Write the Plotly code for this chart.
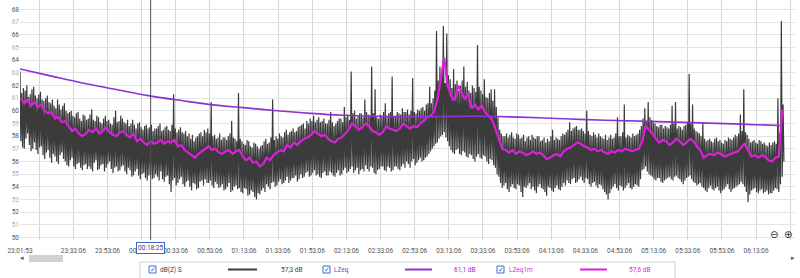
import pandas as pd
import plotly.graph_objects as go

# ---------------- data ----------------
START = "2023-05-31 23:01:53"

# dB(Z) S: upper and lower excursion in each minute (448 minutes)
dbz_high = [
    63.1, 61.4, 61.8, 61.6, 62.0, 61.1, 61.3, 61.7, 61.9, 61.2, 61.0, 61.3, 61.5, 60.9, 60.8, 61.0, 61.2, 60.7, 60.6, 60.9,
    60.4, 60.2, 60.9, 60.5, 60.1, 60.4, 60.6, 60.0, 59.8, 59.9, 60.0, 59.6, 59.5, 59.8, 59.9, 59.4, 59.2, 59.7, 59.6, 59.3,
    59.4, 59.7, 60.1, 59.3, 59.2, 59.6, 59.5, 59.1, 59.0, 59.4, 59.6, 59.2, 59.3, 59.0, 58.9, 59.5, 60.0, 59.1, 59.2, 59.6,
    59.4, 59.1, 59.0, 59.3, 58.8, 59.0, 59.3, 58.9, 58.6, 59.0, 59.1, 58.7, 58.5, 58.8, 58.9, 58.6, 58.7, 58.9, 58.4, 58.6,
    58.6, 58.8, 59.0, 58.4, 58.5, 58.7, 58.8, 58.5, 58.4, 58.9, 61.3, 58.6, 58.3, 58.5, 58.7, 58.3, 58.2, 58.4, 58.0, 58.2,
    57.8, 58.1, 57.6, 57.9, 58.0, 58.2, 58.3, 58.0, 58.5, 58.3, 58.6, 58.2, 60.7, 58.0, 58.1, 57.8, 57.9, 58.2, 57.7, 57.9,
    57.9, 57.7, 58.0, 58.2, 59.2, 57.9, 57.8, 57.6, 61.4, 57.8, 57.6, 57.4, 57.3, 57.7, 57.6, 57.2, 57.1, 57.5, 57.4, 57.2,
    57.0, 57.2, 57.3, 57.6, 57.8, 57.4, 57.5, 57.9, 60.9, 57.7, 58.0, 57.8, 58.2, 58.0, 57.9, 58.3, 58.5, 58.1, 58.3, 58.4,
    58.6, 58.3, 58.4, 58.7, 58.8, 58.9, 59.0, 58.6, 59.2, 59.0, 59.4, 59.2, 59.6, 59.1, 59.3, 59.5, 59.1, 59.2, 59.4, 59.0,
    59.0, 59.3, 59.9, 59.1, 58.8, 59.0, 59.2, 59.4, 59.4, 59.1, 60.3, 59.5, 59.7, 59.3, 63.1, 59.8, 60.0, 59.4, 59.6, 59.8,
    59.8, 59.5, 60.9, 59.9, 59.7, 59.6, 63.5, 59.8, 61.7, 59.5, 59.4, 59.7, 59.6, 59.9, 60.6, 59.5, 59.8, 59.9, 62.7, 59.6,
    59.6, 59.9, 59.8, 59.7, 60.2, 59.9, 59.9, 60.1, 59.7, 60.0, 62.6, 59.9, 59.8, 60.1, 60.0, 60.2, 60.3, 60.0, 60.5, 60.6,
    61.9, 60.6, 61.0, 61.6, 66.3, 62.4, 63.5, 63.0, 66.7, 62.2, 66.1, 62.8, 62.5, 61.8, 63.3, 62.1, 62.4, 61.6, 62.0, 62.4,
    63.5, 61.9, 62.3, 61.6, 61.4, 62.0, 61.8, 61.5, 65.2, 61.9, 61.6, 61.3, 62.5, 61.1, 61.0, 61.4, 61.7, 60.8, 61.7, 60.3,
    59.5, 58.5, 58.2, 58.0, 58.0, 58.2, 57.9, 58.1, 58.3, 57.9, 57.8, 58.2, 58.1, 57.8, 57.9, 58.1, 57.6, 57.9, 58.0, 57.7,
    58.1, 57.9, 57.8, 58.0, 58.0, 57.6, 57.7, 57.9, 57.5, 57.8, 57.6, 58.0, 58.5, 57.7, 57.9, 57.8, 57.7, 58.0, 58.2, 58.1,
    58.3, 58.5, 59.1, 58.4, 58.6, 58.7, 58.8, 58.5, 58.5, 58.6, 58.4, 58.2, 60.0, 58.4, 58.1, 58.0, 58.3, 58.1, 57.9, 58.2,
    58.0, 57.9, 57.8, 58.1, 57.7, 57.9, 58.1, 57.8, 57.9, 58.2, 59.5, 58.0, 58.0, 58.3, 60.5, 57.9, 58.1, 58.0, 57.9, 58.2,
    58.0, 58.1, 58.2, 58.5, 58.8, 59.4, 60.2, 59.2, 60.7, 59.5, 59.3, 59.1, 59.0, 58.8, 58.7, 58.9, 58.9, 58.6, 58.8, 58.7,
    58.6, 58.9, 60.4, 59.0, 60.7, 58.6, 58.8, 58.7, 58.5, 58.8, 58.9, 59.1, 62.9, 59.0, 60.5, 58.6, 58.4, 58.3, 58.2, 58.0,
    59.1, 57.8, 57.6, 57.7, 57.8, 57.6, 57.5, 57.8, 57.9, 57.6, 57.7, 57.5, 57.4, 57.7, 57.6, 57.9, 57.8, 57.7, 57.9, 58.1,
    58.0, 58.2, 59.7, 58.4, 61.7, 58.3, 58.1, 57.8, 57.5, 57.6, 57.7, 57.5, 57.4, 57.7, 57.6, 57.4, 57.5, 57.3, 57.2, 57.5,
    57.3, 57.5, 57.6, 57.4, 61.0, 58.2, 67.1, 60.5,
]
dbz_low = [
    57.6, 57.1, 57.0, 57.8, 58.2, 57.3, 56.8, 57.0, 57.5, 56.9, 56.6, 57.1, 57.2, 56.5, 56.2, 56.7, 56.9, 56.3, 55.9, 56.6,
    56.4, 56.0, 55.8, 56.5, 56.7, 56.2, 56.0, 55.7, 55.6, 56.1, 56.3, 55.6, 55.4, 55.8, 55.9, 55.5, 55.3, 55.7, 55.8, 55.4,
    55.6, 55.4, 55.2, 55.9, 56.1, 55.3, 55.4, 55.7, 55.8, 55.2, 55.5, 55.8, 56.0, 55.4, 55.1, 55.5, 55.6, 55.2, 55.3, 55.6,
    55.7, 55.2, 55.0, 55.5, 55.3, 54.8, 54.9, 55.2, 55.4, 54.9, 54.6, 55.0, 55.1, 54.7, 54.5, 54.9, 55.0, 54.6, 54.7, 55.0,
    54.8, 54.5, 55.2, 54.6, 54.4, 54.8, 54.9, 54.2, 53.6, 54.5, 54.7, 54.1, 54.3, 54.6, 54.8, 54.2, 54.0, 54.4, 54.5, 54.0,
    53.7, 54.3, 54.2, 53.8, 53.9, 54.4, 54.5, 54.1, 54.6, 54.3, 54.3, 54.5, 54.1, 53.9, 54.4, 54.2, 53.9, 54.0, 54.2, 53.7,
    53.8, 54.0, 54.3, 53.6, 53.7, 54.0, 54.1, 53.8, 53.9, 53.6, 53.5, 53.9, 53.8, 53.3, 53.4, 53.7, 53.6, 53.2, 53.0, 53.5,
    53.4, 53.7, 53.9, 53.6, 54.2, 54.0, 53.8, 54.3, 54.4, 54.0, 54.1, 54.4, 54.6, 54.2, 54.3, 54.5, 54.8, 54.3, 54.5, 54.7,
    54.7, 54.9, 54.4, 54.6, 55.0, 54.7, 54.8, 55.1, 55.2, 54.8, 54.9, 55.1, 55.3, 54.9, 55.0, 54.8, 54.7, 55.1, 55.2, 54.9,
    54.9, 55.2, 55.1, 54.9, 54.8, 55.1, 55.3, 54.9, 55.0, 55.3, 55.5, 55.1, 55.2, 55.4, 55.6, 55.1, 55.3, 55.5, 55.0, 55.3,
    55.4, 55.2, 55.7, 55.4, 55.2, 55.6, 55.5, 55.1, 55.0, 55.3, 55.4, 55.6, 55.6, 55.3, 55.2, 55.6, 55.5, 55.2, 55.3, 55.6,
    55.6, 55.4, 55.3, 55.6, 55.8, 55.5, 56.0, 55.8, 55.5, 56.0, 56.2, 55.7, 55.9, 56.1, 56.3, 56.0, 56.1, 56.3, 56.4, 56.6,
    56.8, 57.0, 57.2, 57.4, 57.5, 57.8, 58.0, 58.1, 58.3, 57.9, 57.6, 57.2, 56.9, 56.7, 56.6, 56.9, 57.0, 56.6, 56.5, 56.8,
    56.7, 56.4, 56.3, 56.6, 56.5, 56.2, 56.0, 56.4, 56.6, 56.3, 56.2, 56.5, 56.4, 56.0, 55.8, 56.2, 56.1, 55.7, 55.5, 55.0,
    54.8, 54.3, 53.9, 54.1, 54.3, 53.8, 53.6, 54.0, 54.2, 53.9, 53.8, 54.2, 54.1, 53.6, 53.2, 54.0, 53.9, 54.1, 54.3, 53.8,
    54.0, 53.7, 53.5, 54.0, 54.2, 53.9, 53.8, 53.6, 53.3, 54.0, 53.9, 53.7, 53.6, 53.9, 54.1, 53.8, 53.7, 54.0, 54.3, 54.1,
    54.5, 54.3, 54.2, 54.6, 54.7, 54.3, 54.4, 54.6, 54.8, 54.5, 54.3, 54.7, 54.6, 54.2, 54.0, 54.3, 54.4, 54.1, 53.9, 54.2,
    54.1, 53.8, 53.6, 53.4, 53.0, 53.5, 53.8, 54.0, 54.2, 53.9, 53.7, 54.1, 54.0, 53.7, 53.9, 54.1, 54.3, 53.9, 53.8, 54.0,
    54.2, 54.1, 54.0, 54.6, 55.3, 55.4, 55.6, 55.2, 55.0, 54.9, 54.8, 54.6, 54.5, 54.7, 54.7, 54.4, 54.3, 54.5, 54.6, 54.7,
    54.8, 54.6, 54.5, 54.8, 54.9, 54.7, 54.6, 54.4, 54.2, 54.5, 54.7, 54.8, 54.9, 54.6, 54.4, 54.3, 54.1, 54.2, 54.3, 54.0,
    53.9, 53.7, 53.6, 53.9, 54.1, 53.8, 53.7, 53.9, 54.0, 53.7, 53.5, 53.7, 53.8, 54.0, 54.2, 53.8, 53.6, 53.8, 53.9, 54.0,
    54.1, 54.2, 54.4, 54.2, 54.0, 53.6, 52.8, 53.4, 53.7, 53.8, 53.9, 53.6, 53.5, 53.7, 53.8, 53.5, 53.6, 53.7, 53.4, 53.5,
    53.5, 53.7, 53.9, 53.8, 53.6, 54.2, 54.8, 56.0,
]
# LZeq1m, one value per 2 minutes
lzeq1m = [
    61.0, 60.6, 60.9, 60.4, 60.7, 60.3, 60.5, 60.0, 59.8, 59.9,
    59.4, 59.5, 59.1, 59.2, 58.8, 58.4, 58.6, 58.2, 58.0, 58.2,
    58.5, 58.3, 58.6, 58.2, 58.4, 58.7, 58.3, 58.1, 58.0, 58.3,
    58.4, 58.1, 57.9, 58.2, 57.6, 57.8, 57.5, 57.3, 57.6, 57.4,
    57.5, 57.7, 57.4, 57.6, 57.5, 57.7, 57.2, 57.3, 56.9, 56.7,
    56.5, 56.3, 56.6, 56.8, 57.0, 57.2, 56.9, 57.0, 56.7, 56.6,
    56.8, 56.9, 56.6, 56.8, 56.9, 56.4, 56.1, 56.3, 55.9, 56.0,
    55.6, 55.8, 56.3, 56.1, 56.5, 56.7, 56.9, 56.8, 57.3, 57.1,
    57.5, 57.3, 57.6, 57.8, 57.9, 58.1, 58.4, 58.2, 58.0, 58.1,
    57.8, 57.6, 57.5, 57.8, 57.9, 58.2, 58.5, 59.0, 58.8, 58.5,
    58.7, 59.0, 58.8, 58.4, 58.3, 58.1, 58.3, 58.8, 58.6, 58.5,
    58.4, 58.6, 59.0, 58.8, 58.6, 58.8, 58.7, 59.0, 59.2, 59.5,
    59.6, 59.9, 60.9, 62.5, 64.2, 62.0, 61.2, 60.8, 62.0, 61.5,
    60.9, 61.4, 60.2, 60.5, 60.1, 60.4, 59.9, 59.6, 59.3, 58.6,
    57.8, 57.0, 56.9, 56.7, 56.9, 56.6, 56.8, 56.7, 56.5, 56.6,
    56.8, 56.6, 56.7, 56.5, 56.2, 56.3, 56.5, 56.6, 56.4, 56.8,
    57.0, 57.1, 57.3, 57.5, 57.4, 57.2, 57.1, 56.9, 57.0, 56.8,
    56.9, 56.7, 56.6, 56.8, 56.7, 56.9, 56.8, 57.0, 56.9, 56.8,
    56.9, 57.0, 57.6, 58.8, 58.5, 58.2, 57.8, 57.5, 57.7, 57.6,
    57.3, 57.5, 57.8, 57.6, 57.3, 57.5, 57.8, 57.6, 57.2, 56.9,
    56.3, 56.5, 56.6, 56.5, 56.7, 56.6, 56.4, 56.5, 56.6, 56.7,
    56.8, 57.1, 57.4, 56.9, 56.4, 56.5, 56.3, 56.5, 56.4, 56.1,
    56.0, 56.3, 56.4, 60.1,
]
# LZeq (running Leq): minutes from start and level
lzeq_minutes = [0, 16.6, 36.5, 55.8, 75.2, 95.1, 114.4, 130.8, 150.7, 170.1, 189.4,
                209.3, 228.6, 246.2, 265.0, 279.6, 303.6, 322.4, 342.9, 379.2, 417.8, 445.4]
lzeq_vals = [63.3, 62.8, 62.2, 61.7, 61.2, 60.8, 60.45, 60.25, 60.0, 59.8, 59.65,
             59.57, 59.52, 59.55, 59.58, 59.55, 59.45, 59.35, 59.25, 59.13, 58.97, 58.84]

series_names = ["dB(Z) S", "LZeq", "LZeq1m"]
cursor_values = ["57,3 dB", "61,1 dB", "57,6 dB"]
cursor_time = "2023-06-01 00:18:25"
cursor_label = "00:18:25"
first_tick = "23:01:53"
grid_start = "2023-05-31 23:13:06"   # 20-minute grid from here
grid_count = 23
y_ticks = list(range(50, 69))

# ---------------- build ----------------
t0 = pd.Timestamp(START)
zig_x, zig_y = [], []
for j, (hv, lv) in enumerate(zip(dbz_high, dbz_low)):
    zig_x += [t0 + pd.Timedelta(minutes=j), t0 + pd.Timedelta(minutes=j + 0.5)]
    zig_y += [hv, lv]
m_x = [t0 + pd.Timedelta(minutes=2 * k + 0.5) for k in range(len(lzeq1m))]
p_x = [t0 + pd.Timedelta(minutes=m) for m in lzeq_minutes]

GREY = "#3b3b3b"
MAG = "#dc1fdc"
PUR = "#8c32d2"

fig = go.Figure()
fig.add_trace(go.Scatter(x=zig_x, y=zig_y, mode="lines",
                         line=dict(color=GREY, width=1.2), hoverinfo="skip"))
fig.add_trace(go.Scatter(x=m_x, y=lzeq1m, mode="lines",
                         line=dict(color=MAG, width=2.2), hoverinfo="skip"))
fig.add_trace(go.Scatter(x=p_x, y=lzeq_vals, mode="lines", line_shape="spline",
                         line=dict(color=PUR, width=1.6), hoverinfo="skip"))

g0 = pd.Timestamp(grid_start)
tickvals = [t0] + [g0 + pd.Timedelta(minutes=20 * i) for i in range(grid_count)]
ticktext = [first_tick] + ["" if i == 0 else (g0 + pd.Timedelta(minutes=20 * i)).strftime("%H:%M:%S")
                           for i in range(grid_count)]

ytext = ['<span style="color:%s">%d</span>' % ("#555555" if v % 2 == 0 else "#b0b0b0", v)
         for v in y_ticks]

FONT = "Roboto"
FS = 6.5
fig.update_layout(
    width=800, height=278,
    margin=dict(l=20, r=5, t=0, b=38),
    paper_bgcolor="white", plot_bgcolor="white",
    showlegend=False,
    font=dict(family=FONT, size=FS, color="#555555"),
    xaxis=dict(type="date",
               range=[t0, t0 + pd.Timedelta(minutes=454)],
               tickvals=tickvals, ticktext=ticktext,
               showgrid=True, gridcolor="#d6d6d6", gridwidth=1,
               zeroline=False, showline=False,
               ticks="outside", ticklen=4, tickcolor="rgba(0,0,0,0)",
               tickfont=dict(size=FS, color="#555555")),
    yaxis=dict(range=[49.8, 68.75], tickvals=y_ticks, ticktext=ytext,
               showgrid=True, gridcolor="#e4e4e4", gridwidth=1,
               zeroline=False, showline=False, ticks="",
               tickfont=dict(size=FS)),
)

W, H, L, T = 775.0, 240.0, 20.0, 0.0
def xp(px):
    return (px - L) / W
def yp(py):
    return (H - (py - T)) / H

shapes = []
annos = []
def note(x, y, text, size=FS, color="#555555", family=FONT, xanchor="center", **kw):
    d = dict(x=xp(x), y=yp(y), xref="paper", yref="paper", text=text, showarrow=False,
             xanchor=xanchor, yanchor="middle", font=dict(size=size, color=color, family=family))
    d.update(kw)
    annos.append(d)

# cursor
ct = pd.Timestamp(cursor_time)
shapes.append(dict(type="line", xref="x", yref="paper", x0=ct, x1=ct, y0=0, y1=1,
                   line=dict(color="#505050", width=1)))
annos.append(dict(x=ct, xref="x", y=yp(248), yref="paper", text=cursor_label, showarrow=False,
                  xanchor="center", yanchor="middle",
                  font=dict(size=FS, color="#1f3f9a", family=FONT), bgcolor="white",
                  bordercolor="#3a66c8", borderwidth=1, borderpad=1))
# zoom buttons
note(774, 234, "⊖", size=10, color="#333333", family="DejaVu Sans")
note(788, 234, "⊕", size=10, color="#333333", family="DejaVu Sans")
# scrollbar
shapes.append(dict(type="rect", xref="paper", yref="paper", x0=xp(29), x1=xp(63),
                   y0=yp(262), y1=yp(255), fillcolor="#d2d2d2", line=dict(width=0)))
note(22, 258, "◂", size=7, family="DejaVu Sans")
note(793, 258, "▸", size=7, family="DejaVu Sans")
# legend box
shapes.append(dict(type="rect", xref="paper", yref="paper", x0=xp(140), x1=xp(675),
                   y0=yp(279), y1=yp(262), fillcolor="white", line=dict(color="#cfcfcf", width=1)))
entries = [
    (149, 158, 228, 257, 305, GREY, "#444444"),
    (323, 332, 405, 432, 478, PUR, PUR),
    (497, 507, 580, 607, 653, MAG, MAG),
]
for (cbx, tx, lx0, lx1, vx, lcol, tcol), name, val in zip(entries, series_names, cursor_values):
    shapes.append(dict(type="rect", xref="paper", yref="paper", x0=xp(cbx), x1=xp(cbx + 7),
                       y0=yp(273), y1=yp(266), fillcolor="white", line=dict(color="#3a6fd0", width=1)))
    note(cbx + 3.5, 269.5, "✓", size=7, color="#2a5fc0", family="DejaVu Sans")
    note(tx, 269.5, name, color=tcol, xanchor="left")
    shapes.append(dict(type="line", xref="paper", yref="paper", x0=xp(lx0), x1=xp(lx1),
                       y0=yp(269.5), y1=yp(269.5), line=dict(color=lcol, width=2)))
    note(vx, 269.5, val, color=tcol, xanchor="right")

fig.update_layout(shapes=shapes, annotations=annos)
fig.write_html("out.html")
